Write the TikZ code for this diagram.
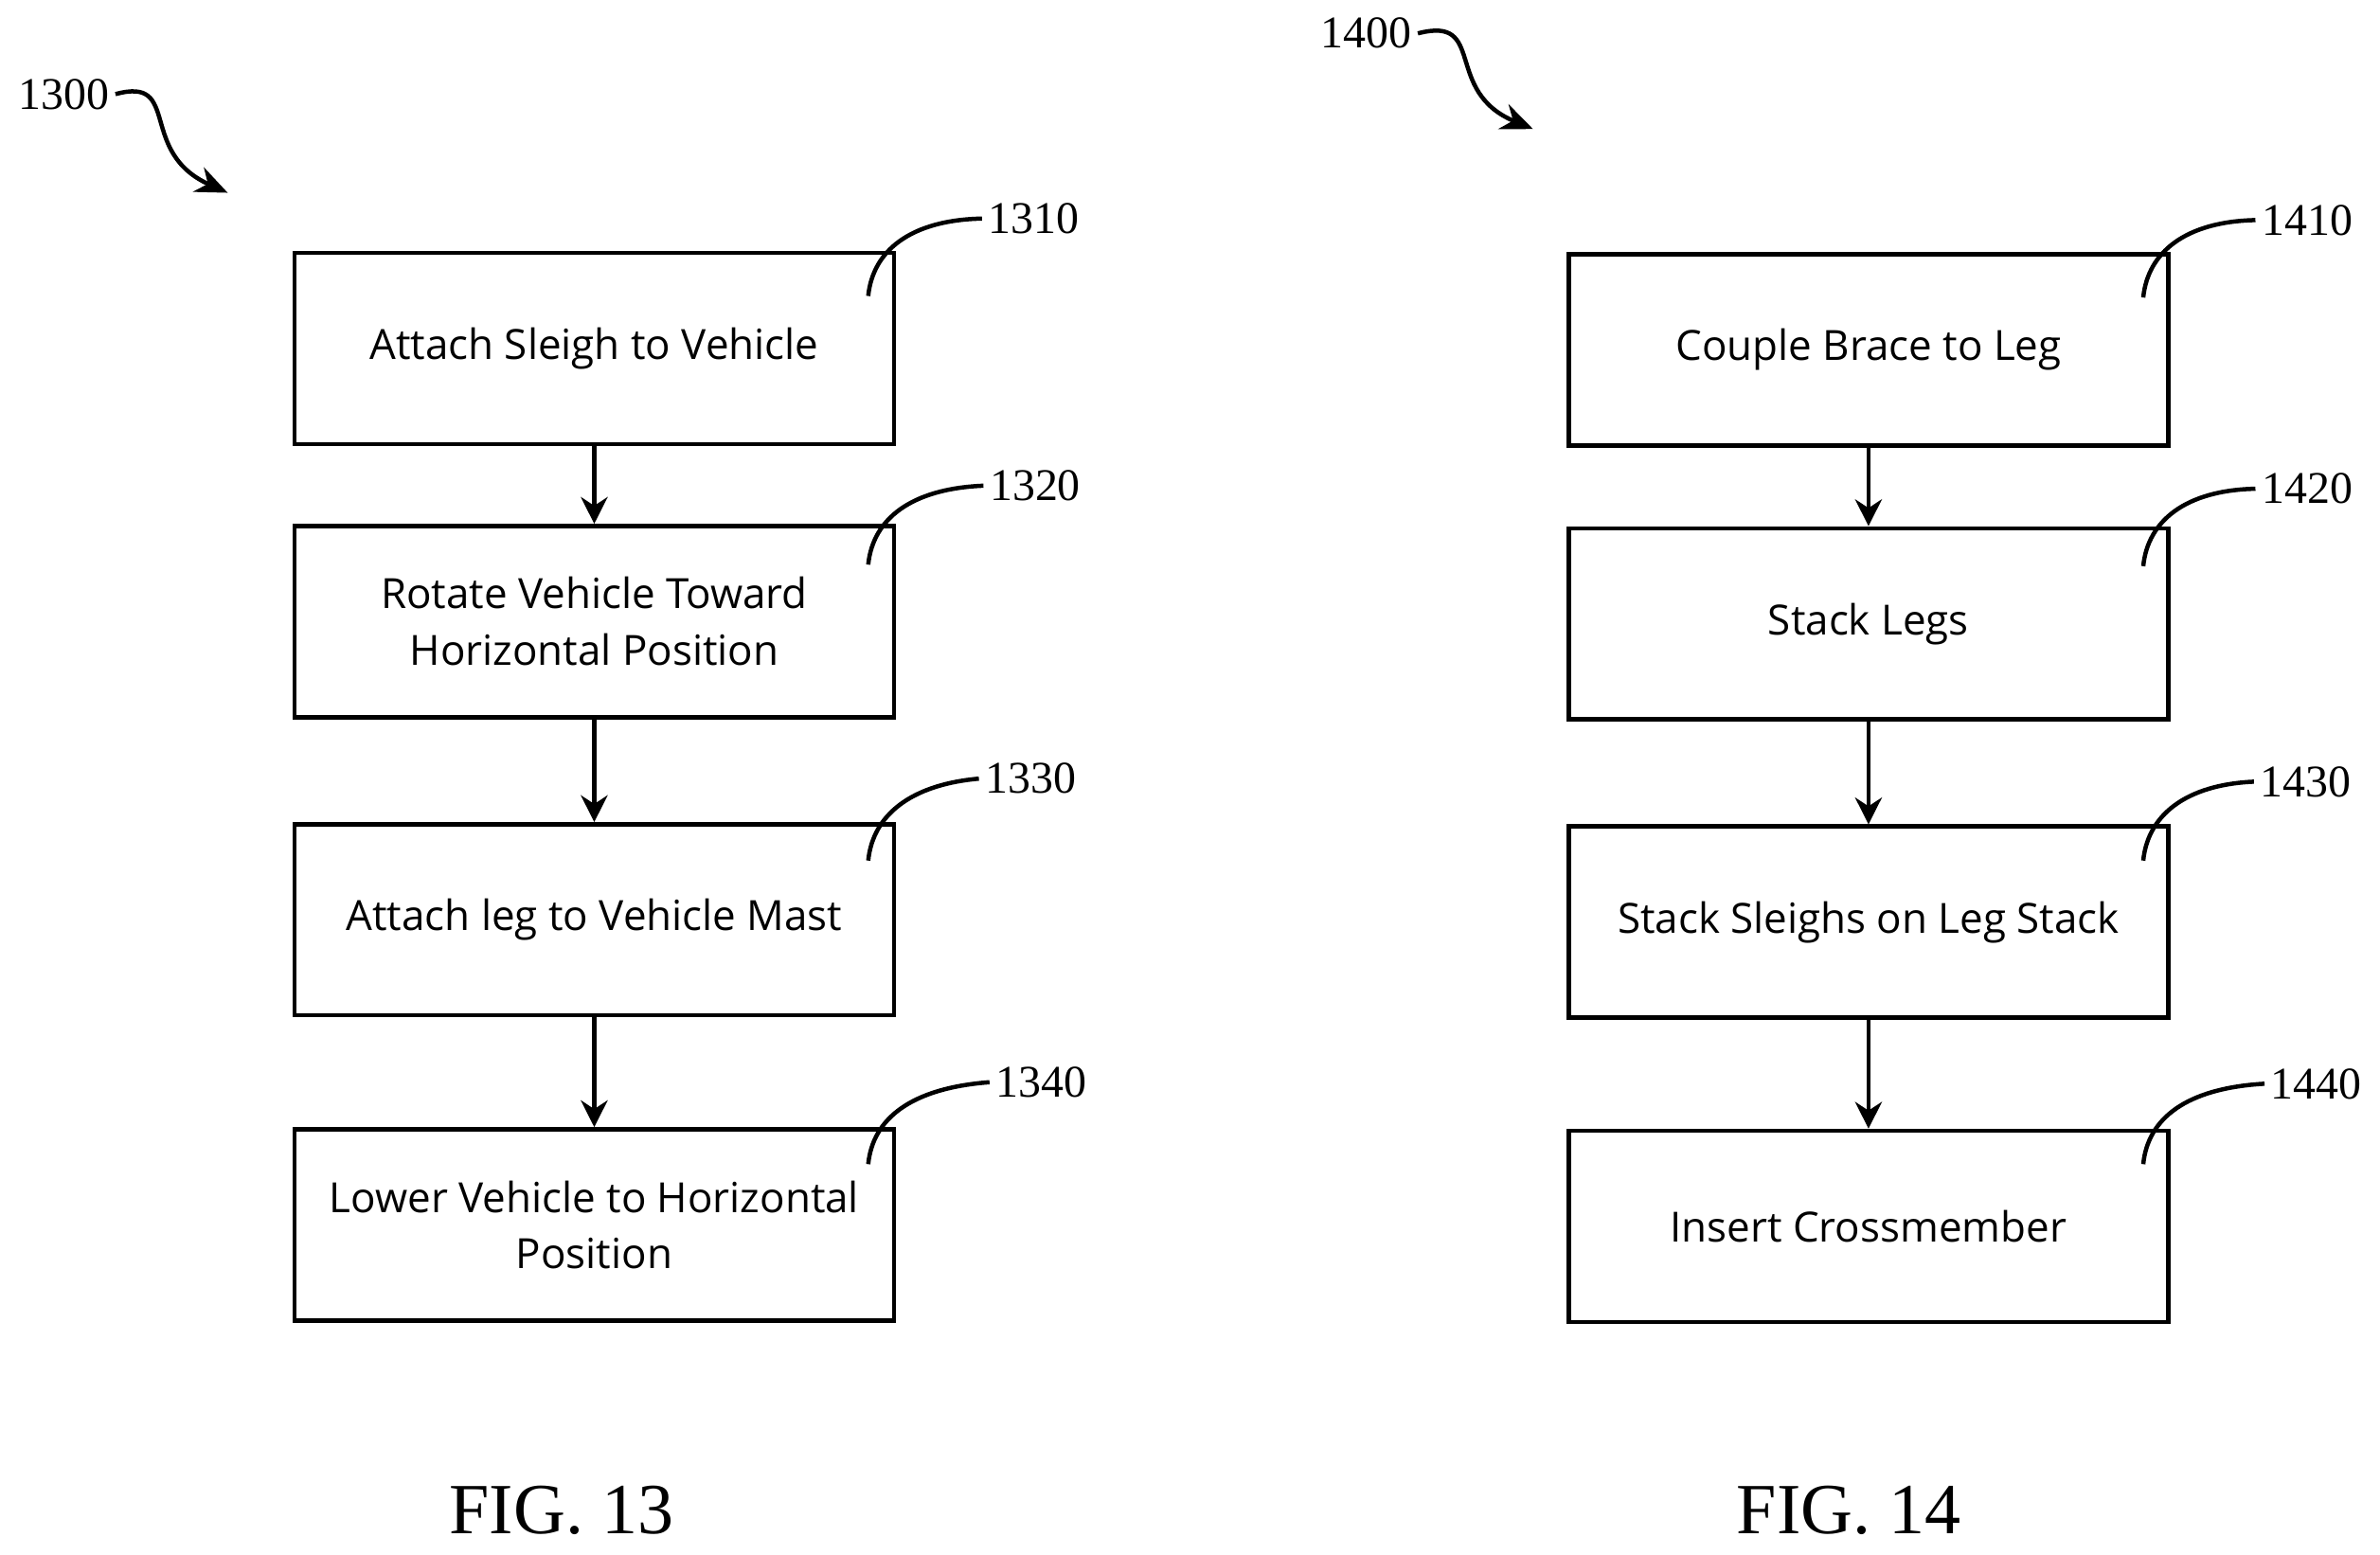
\documentclass[tikz,border=0pt]{standalone}
\usepackage{fontspec}
\setmainfont{Liberation Serif}
\newfontfamily\boxfont{Open Sans}
\usetikzlibrary{arrows.meta,positioning}
\tikzset{
  stepbox/.style={draw,thick,minimum width=3.95cm,minimum height=1.26cm,align=center,font=\boxfont\fontsize{7.8}{10.6}\selectfont},
  refnum/.style={font=\fontsize{8.5}{10}\selectfont,inner sep=1pt},
  flow/.style={-{Stealth[length=5pt,width=5pt]},thick},
  lead/.style={thick}
}
\begin{document}
\begin{tikzpicture}[x=1cm,y=1cm]
\useasboundingbox (0,0) rectangle (15.68,-10.24);
% FIG. 13
\node[refnum] (n1300) at (0.42,-0.62) {1300};
\coordinate (a1300) at (1.5,-1.27);
\draw[lead,-{Stealth[length=6pt,width=5pt]}] (n1300.east) .. controls (1.2,-0.5) and (0.9,-1.0) .. (a1300);
\node[stepbox] (s1310) at (3.915,-2.295) {Attach Sleigh to Vehicle};
\node[stepbox] (s1320) at (3.915,-4.095) {Rotate Vehicle Toward\\Horizontal Position};
\node[stepbox] (s1330) at (3.915,-6.06) {Attach leg to Vehicle Mast};
\node[stepbox] (s1340) at (3.915,-8.07) {Lower Vehicle to Horizontal\\Position};
\draw[flow] (s1310) -- (s1320);
\draw[flow] (s1320) -- (s1330);
\draw[flow] (s1330) -- (s1340);
\node[refnum] (n1310) at (6.81,-1.44) {1310};
\node[refnum] (n1320) at (6.82,-3.2) {1320};
\node[refnum] (n1330) at (6.79,-5.13) {1330};
\node[refnum] (n1340) at (6.86,-7.13) {1340};
\foreach \k/\y in {1310/1.95,1320/3.72,1330/5.67,1340/7.67}
  \draw[lead] (5.72,-\y) .. controls (5.75,-\y+0.3) and (6.0,-\y+0.5) .. (n\k.west);
\node[font=\fontsize{13.5}{16}\selectfont] (f13) at (3.7,-9.95) {FIG. 13};
% FIG. 14
\node[refnum] (n1400) at (9.0,-0.22) {1400};
\coordinate (a1400) at (10.1,-0.85);
\draw[lead,-{Stealth[length=6pt,width=5pt]}] (n1400.east) .. controls (9.8,-0.1) and (9.5,-0.6) .. (a1400);
\node[stepbox] (s1410) at (12.31,-2.305) {Couple Brace to Leg};
\node[stepbox] (s1420) at (12.31,-4.11) {Stack Legs};
\node[stepbox] (s1430) at (12.31,-6.075) {Stack Sleighs on Leg Stack};
\node[stepbox] (s1440) at (12.31,-8.08) {Insert Crossmember};
\draw[flow] (s1410) -- (s1420);
\draw[flow] (s1420) -- (s1430);
\draw[flow] (s1430) -- (s1440);
\node[refnum] (n1410) at (15.2,-1.45) {1410};
\node[refnum] (n1420) at (15.2,-3.22) {1420};
\node[refnum] (n1430) at (15.19,-5.15) {1430};
\node[refnum] (n1440) at (15.26,-7.14) {1440};
\foreach \k/\y in {1410/1.96,1420/3.73,1430/5.67,1440/7.67}
  \draw[lead] (14.12,-\y) .. controls (14.15,-\y+0.3) and (14.4,-\y+0.5) .. (n\k.west);
\node[font=\fontsize{13.5}{16}\selectfont] (f14) at (12.18,-9.95) {FIG. 14};
\end{tikzpicture}
\end{document}
